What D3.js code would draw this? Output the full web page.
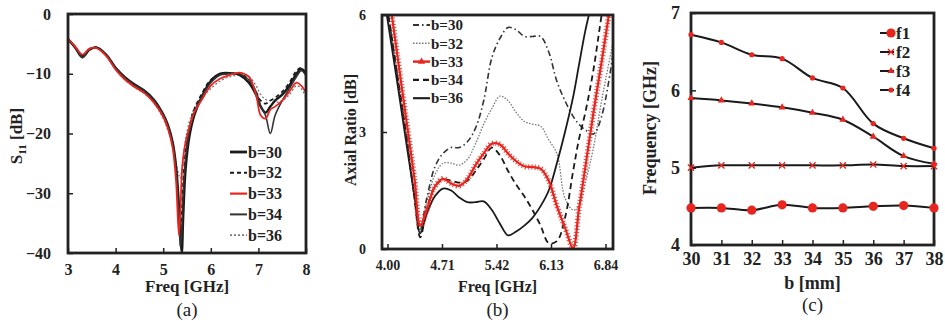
<!DOCTYPE html>
<html><head><meta charset="utf-8">
<script src="https://cdn.jsdelivr.net/npm/d3@7"></script>
<style>body{margin:0;background:#fff}svg text{font-family:"Liberation Serif","Times New Roman",serif}</style>
</head><body><svg id="chart" width="945" height="321"></svg>
<script>
// ---------- Panel (a): S11 ----------
const freqA=[3.0,3.15,3.3,3.45,3.6,3.8,4.0,4.2,4.4,4.6,4.8,5.0,5.1,5.2,5.27,5.33,5.36,5.39,5.42,5.47,5.55,5.65,5.8,6.0,6.2,6.4,6.6,6.8,6.95,7.05,7.15,7.25,7.35,7.5,7.65,7.8,7.9,8.0];
const s11_b30=[-4.2,-5.6,-7.2,-6.0,-5.6,-6.8,-9.0,-10.6,-11.8,-12.8,-14.3,-16.8,-18.6,-21.5,-25.5,-32,-37,-40,-34,-26,-20.5,-17,-14,-11.2,-10.0,-9.9,-10.2,-11.5,-13.5,-15.5,-16.5,-15.5,-14.5,-13.5,-12,-10,-9.2,-10];
const s11_b32=[-4.2,-5.5,-7.0,-5.9,-5.6,-6.9,-9.2,-10.8,-12.0,-13.0,-14.5,-17.0,-18.8,-21.8,-26,-33,-36,-33,-28,-23,-19,-16,-13.5,-11,-10.2,-10.0,-10.0,-11,-13,-14.5,-15,-14.5,-14,-13,-11.5,-9.5,-9,-10];
const s11_b33=[-4.2,-5.4,-6.8,-5.8,-5.7,-7.0,-9.3,-11.0,-12.2,-13.2,-14.8,-17.2,-19.2,-22.5,-28,-37,-33,-27,-24,-21.5,-19,-16.5,-14.5,-12,-10.8,-10.2,-9.8,-10.5,-13.5,-17,-17.5,-16,-15.5,-14.5,-13,-11.5,-12,-13.2];
const s11_b34=[-4.2,-5.6,-7.3,-6.0,-5.6,-6.8,-9.0,-10.7,-11.9,-12.9,-14.4,-16.9,-18.7,-21.7,-26,-34,-39,-36,-30,-24,-19.5,-16.5,-14,-11.5,-10.2,-10.0,-10.0,-11,-13,-15.5,-17,-20,-17,-14.5,-12.5,-10.5,-9.5,-10.3];
const s11_b36=[-4.2,-5.4,-6.9,-5.8,-5.6,-6.9,-9.2,-11.0,-12.3,-13.3,-14.8,-17.5,-19.5,-22,-25,-27,-27.5,-26,-24,-21,-18,-15.8,-14,-12.5,-11.2,-10.5,-10.2,-10.5,-12,-13.5,-14.3,-14.5,-14.8,-14.5,-13.5,-12,-12.5,-14];
const labelsA=["b=30","b=32","b=33","b=34","b=36"];
const xTicksA=[3,4,5,6,7,8];
const yTicksA=[0,-10,-20,-30,-40];

// ---------- Panel (b): Axial ratio ----------
const freqB=[4.00,4.10,4.20,4.30,4.40,4.47,4.55,4.65,4.75,4.85,4.95,5.05,5.15,5.25,5.35,5.45,5.55,5.65,5.75,5.85,5.95,6.05,6.15,6.25,6.35,6.42,6.50,6.60,6.70,6.84];
const ar_b30=[7.0,5.7,4.3,2.9,1.3,0.5,1.3,2.1,2.45,2.6,2.6,2.75,3.1,3.8,4.9,5.4,5.68,5.62,5.45,5.45,5.45,5.05,4.3,3.8,3.4,3.2,3.05,2.95,3.4,5.0];
const ar_b32=[7.0,5.7,4.3,2.9,1.3,0.45,1.2,1.9,2.2,2.2,2.15,2.3,2.7,3.2,3.6,3.92,3.8,3.5,3.27,3.2,3.15,2.8,2.45,1.3,1.0,1.1,1.7,2.6,3.8,5.3];
const ar_b33=[7.8,6.3,4.8,3.3,1.8,0.6,1.0,1.6,1.8,1.68,1.62,1.8,2.15,2.45,2.7,2.68,2.45,2.25,2.12,2.1,2.06,1.75,1.1,0.55,0.02,1.0,2.1,3.5,4.8,6.7];
const ar_b34=[7.0,5.7,4.3,2.9,1.3,0.3,1.0,1.6,1.78,1.75,1.7,1.75,2.0,2.3,2.6,2.4,2.0,1.65,1.35,1.0,0.6,0.15,0.2,0.8,2.0,2.8,3.5,4.6,6.0,7.8];
const ar_b36=[6.8,5.45,4.1,2.7,1.35,0.4,0.9,1.35,1.55,1.5,1.32,1.2,1.2,1.22,1.0,0.65,0.35,0.45,0.6,0.8,1.1,1.5,2.2,3.0,3.9,4.7,5.6,6.5,7.5,8.5];
const labelsB=["b=30","b=32","b=33","b=34","b=36"];
const xTicksB=[4.00,4.71,5.42,6.13,6.84];
const yTicksB=[0,3,6];

// ---------- Panel (c): Frequency vs b ----------
const bValues=[30,31,32,33,34,35,36,37,38];
const f1=[4.48,4.48,4.45,4.52,4.48,4.48,4.50,4.51,4.48];
const f2=[5.00,5.03,5.03,5.03,5.03,5.03,5.04,5.02,5.02];
const f3=[5.90,5.87,5.83,5.78,5.71,5.62,5.40,5.15,5.05];
const f4=[6.72,6.62,6.46,6.41,6.16,6.03,5.57,5.38,5.25];
const labelsC=["f1","f2","f3","f4"];
const yTicksC=[4,5,6,7];

const svg=d3.select("#chart");
const defs=svg.append("defs");
const INK="#222";

function panel(o){
  const g=svg.append("g");
  const x=d3.scaleLinear().domain(o.xd).range([o.l,o.r]);
  const y=d3.scaleLinear().domain(o.yd).range([o.b,o.t]);
  defs.append("clipPath").attr("id",o.id).append("rect")
    .attr("x",o.l).attr("y",o.t).attr("width",o.r-o.l).attr("height",o.b-o.t);
  const plot=g.append("g").attr("clip-path",`url(#${o.id})`);
  const ax=g.append("g").attr("transform",`translate(0,${o.b})`)
    .call(d3.axisBottom(x).tickValues(o.xt).tickSize(-5).tickPadding(o.xp).tickFormat(o.xf));
  if(o.xlab){ // label placement used by the original (evenly spread, slightly inset)
    const lp=d3.scalePoint().domain(o.xt).range([o.l+o.xlab[0],o.r-o.xlab[1]]);
    ax.selectAll(".tick").attr("transform",d=>`translate(${lp(d)},0)`);
  }
  const ay=g.append("g").attr("transform",`translate(${o.l},0)`)
    .call(d3.axisLeft(y).tickValues(o.yt).tickSize(-5).tickPadding(o.yp).tickFormat(o.yf));
  [ax,ay].forEach((a,i)=>{
    a.select(".domain").remove();
    a.selectAll(".tick line").attr("stroke",INK).attr("stroke-width",1.5);
    a.selectAll(".tick text").attr("fill",INK).attr("font-weight","bold")
      .attr("font-size",i===0?o.fsx:o.fsy);
  });
  return {g,plot,x,y,o};
}
function frame(p){
  const o=p.o;
  p.g.append("rect").attr("x",o.l).attr("y",o.t).attr("width",o.r-o.l).attr("height",o.b-o.t)
    .attr("fill","none").attr("stroke",INK).attr("stroke-width",2.8);
}
function titles(p,xt,yt,tag,fsx,fsy,xty,ytx,yty,tagy){
  const o=p.o, cx=(o.l+o.r)/2;
  p.g.append("text").attr("x",cx).attr("y",xty).attr("text-anchor","middle")
    .attr("font-weight","bold").attr("font-size",fsx).attr("fill",INK).text(xt);
  const t=p.g.append("text").attr("transform",`translate(${ytx},${yty}) rotate(-90)`)
    .attr("text-anchor","middle").attr("font-weight","bold").attr("font-size",fsy).attr("fill",INK);
  if(typeof yt==="string") t.text(yt); else yt(t);
  p.g.append("text").attr("x",cx).attr("y",tagy).attr("text-anchor","middle")
    .attr("font-size",19).attr("fill",INK).text(tag);
}

// ===== (a) =====
const pa=panel({id:"ca",l:68,r:306,t:14,b:253,xd:[3,8],yd:[-40,0],xt:xTicksA,yt:yTicksA,
  xf:d3.format("d"),yf:d3.format("d"),xp:11,yp:17,fsx:16,fsy:16});
const stylesA=[
  {d:s11_b30,c:"#1a1a1a",w:2.4,da:null},
  {d:s11_b32,c:"#1a1a1a",w:1.6,da:"4,3"},
  {d:s11_b33,c:"#e8261f",w:1.8,da:null},
  {d:s11_b34,c:"#333",w:1.6,da:null},
  {d:s11_b36,c:"#777",w:1.3,da:"2,2"}
];
const lineA=d=>d3.line().x((v,i)=>pa.x(freqA[i])).y(v=>pa.y(v)).curve(d3.curveCatmullRom.alpha(0.5))(d);
[4,1,0,3,2].forEach(k=>{
  const s=stylesA[k];
  pa.plot.append("path").attr("d",lineA(s.d)).attr("fill","none").attr("stroke",s.c)
    .attr("stroke-width",s.w).attr("stroke-dasharray",s.da);
});
frame(pa);
const legA=pa.g.append("g");
labelsA.forEach((lab,i)=>{
  const s=stylesA[i], yy=152+i*20.8;
  legA.append("line").attr("x1",230).attr("x2",247).attr("y1",yy).attr("y2",yy)
    .attr("stroke",s.c).attr("stroke-width",s.w+0.4).attr("stroke-dasharray",s.da);
  legA.append("text").attr("x",248).attr("y",yy).attr("dy","0.35em").attr("font-weight","bold")
    .attr("font-size",16).attr("fill",INK).text(lab);
});
titles(pa,"Freq [GHz]",t=>{t.append("tspan").text("S");t.append("tspan").attr("font-size",11).attr("dy",4).text("11");t.append("tspan").attr("dy",-4).text(" [dB]");},
  "(a)",17,17,292,22,136,316);

// ===== (b) =====
const pb=panel({id:"cb",l:382,r:613,t:15,b:249,xd:[4.0,6.84],yd:[0,6],xt:xTicksB,yt:yTicksB,
  xf:d3.format(".2f"),yf:d3.format("d"),xp:11,yp:16,fsx:14,fsy:14,xlab:[6,7]});
const stylesB=[
  {d:ar_b30,c:"#333",w:1.6,da:"6,3,1.5,3"},
  {d:ar_b32,c:"#777",w:1.3,da:"1.5,1.5"},
  {d:ar_b33,c:"#e8261f",w:2.2,da:null},
  {d:ar_b34,c:"#1a1a1a",w:1.8,da:"6,4"},
  {d:ar_b36,c:"#1a1a1a",w:1.8,da:null}
];
const lineB=d=>d3.line().x((v,i)=>pb.x(freqB[i])).y(v=>pb.y(v)).curve(d3.curveCatmullRom.alpha(0.5))(d);
[1,0,3,4,2].forEach(k=>{
  const s=stylesB[k];
  pb.plot.append("path").attr("d",lineB(s.d)).attr("fill","none").attr("stroke",s.c)
    .attr("stroke-width",s.w).attr("stroke-dasharray",s.da);
  if(k===2){
    pb.plot.append("path").attr("d",lineB(s.d)).attr("fill","none").attr("stroke",s.c)
      .attr("stroke-width",5.5).attr("stroke-dasharray","1,2.2").attr("opacity",0.85);
  }
});
frame(pb);
const legB=pb.g.append("g");
labelsB.forEach((lab,i)=>{
  const s=stylesB[i], yy=25+i*18.3;
  legB.append("line").attr("x1",413).attr("x2",430).attr("y1",yy).attr("y2",yy)
    .attr("stroke",s.c).attr("stroke-width",s.w+0.3).attr("stroke-dasharray",s.da);
  if(i===2) legB.append("path").attr("d",d3.symbol(d3.symbolTriangle,22)()).attr("transform",`translate(421.5,${yy})`).attr("fill",s.c);
  legB.append("text").attr("x",431).attr("y",yy).attr("dy","0.35em").attr("font-weight","bold")
    .attr("font-size",15).attr("fill",INK).text(lab);
});
titles(pb,"Freq [GHz]","Axial Ratio [dB]","(b)",16,16,292,356,130,316);

// ===== (c) =====
const pc=panel({id:"cc",l:691,r:934,t:13,b:245,xd:[30,38],yd:[4,7],xt:bValues,yt:yTicksC,
  xf:d3.format("d"),yf:d3.format("d"),xp:7,yp:11,fsx:18,fsy:18});
const seriesC=[f1,f2,f3,f4];
const markers=[
  (g,x,y)=>g.append("circle").attr("cx",x).attr("cy",y).attr("r",4.6).attr("fill","#e8261f"),
  (g,x,y)=>g.append("path").attr("d",d3.symbol(d3.symbolX,26)()).attr("transform",`translate(${x},${y})`).attr("fill","none").attr("stroke","#e8261f").attr("stroke-width",1.4),
  (g,x,y)=>g.append("path").attr("d",d3.symbol(d3.symbolTriangle,22)()).attr("transform",`translate(${x},${y})`).attr("fill","#e8261f"),
  (g,x,y)=>g.append("circle").attr("cx",x).attr("cy",y).attr("r",2.6).attr("fill","#e8261f")
];
const lineC=d3.line().x((v,i)=>pc.x(bValues[i])).y(v=>pc.y(v)).curve(d3.curveCatmullRom.alpha(0.5));
seriesC.forEach((d,k)=>{
  pc.g.append("path").attr("d",lineC(d)).attr("fill","none").attr("stroke","#1a1a1a").attr("stroke-width",2);
});
frame(pc);
seriesC.forEach((d,k)=>{
  d.forEach((v,i)=>markers[k](pc.g,pc.x(bValues[i]),pc.y(v)));
});
labelsC.forEach((lab,i)=>{
  const yy=33+i*19;
  pc.g.append("line").attr("x1",880).attr("x2",894).attr("y1",yy).attr("y2",yy).attr("stroke","#1a1a1a").attr("stroke-width",2);
  markers[i](pc.g,891,yy);
  pc.g.append("text").attr("x",896).attr("y",yy).attr("dy","0.35em").attr("font-weight","bold")
    .attr("font-size",17).attr("fill",INK).text(lab);
});
titles(pc,"b [mm]","Frequency [GHz]","(c)",18,18,289,656,128,311);
</script></body></html>
